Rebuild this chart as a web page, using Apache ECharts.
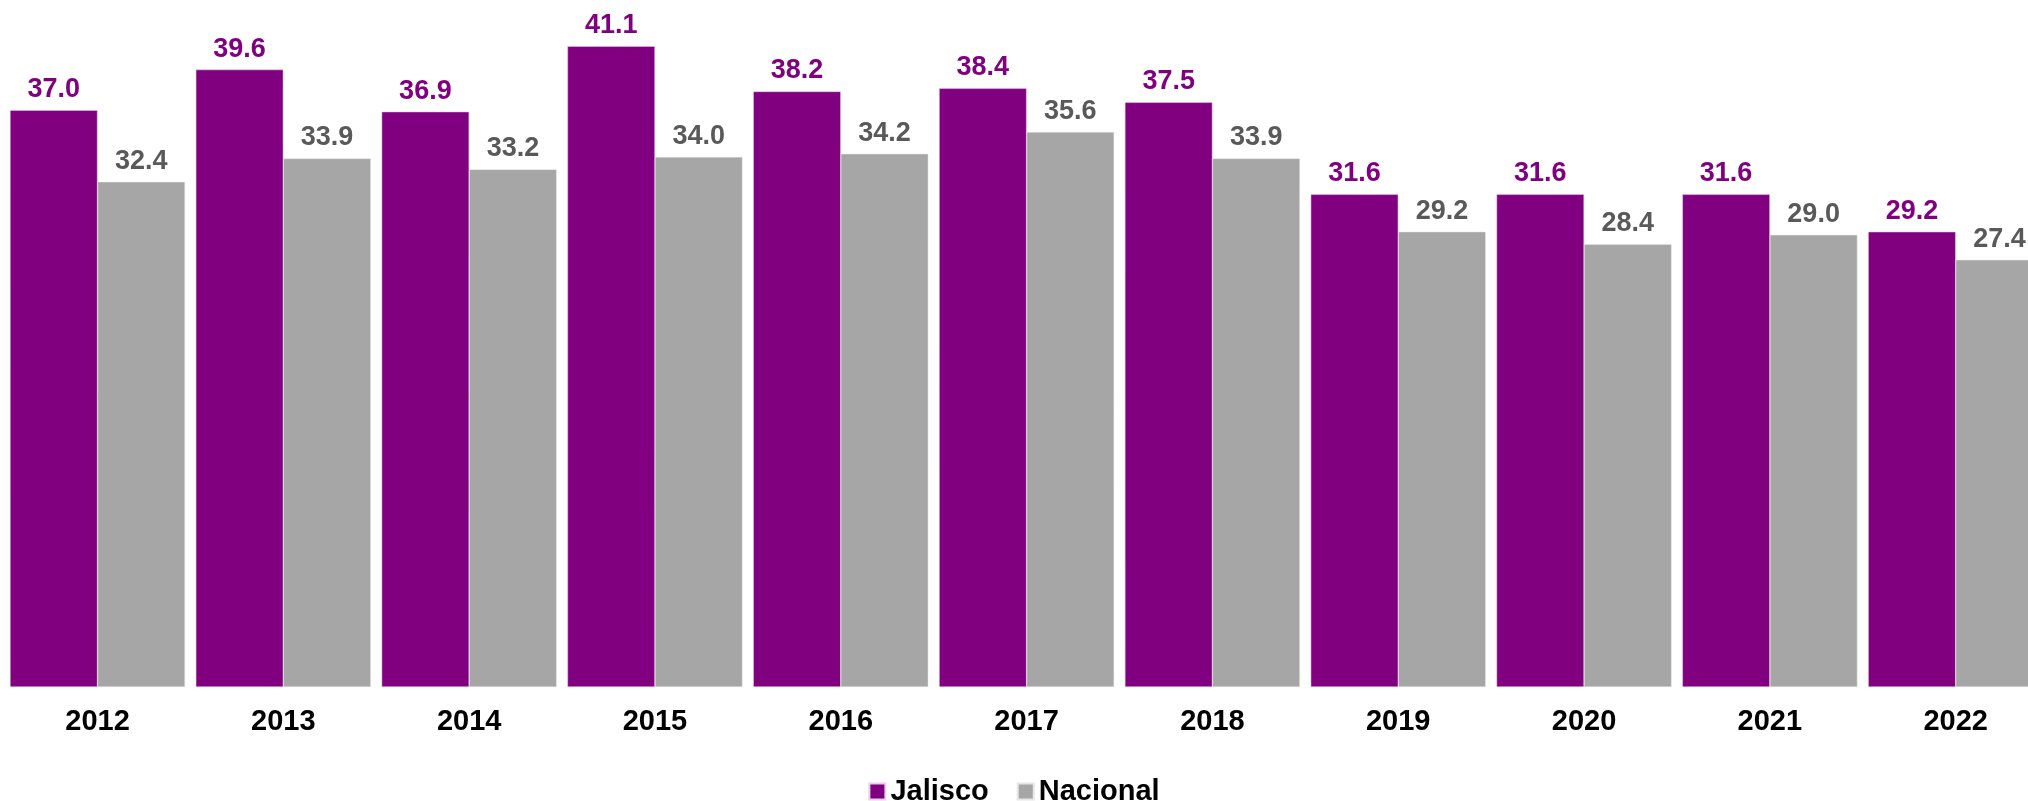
<!DOCTYPE html>
<html>
<head>
<meta charset="utf-8">
<script src="https://cdn.jsdelivr.net/npm/echarts@6/dist/echarts.min.js"></script>
<style>
  html, body { margin: 0; padding: 0; background: #fff; }
  #chart { width: 2028px; height: 801px; }
</style>
</head>
<body>
<div id="chart"></div>
<script>
// datos
const years = ["2012", "2013", "2014", "2015", "2016", "2017", "2018", "2019", "2020", "2021", "2022"];
const jalisco = [37.0, 39.6, 36.9, 41.1, 38.2, 38.4, 37.5, 31.6, 31.6, 31.6, 29.2];
const nacional = [32.4, 33.9, 33.2, 34.0, 34.2, 35.6, 33.9, 29.2, 28.4, 29.0, 27.4];

const font = "Liberation Sans, Arial, sans-serif";
const chart = echarts.init(document.getElementById("chart"));

chart.setOption({
  animation: false,
  grid: { left: 4.6, right: -20.6, top: 1, bottom: 114, outerBoundsMode: "none", containLabel: false },
  legend: {
    top: 772,
    left: "center",
    icon: "rect",
    itemWidth: 16,
    itemHeight: 16,
    itemGap: 28,
    textStyle: { fontFamily: font, fontSize: 29, fontWeight: "bold", color: "#000" },
    data: ["Jalisco", "Nacional"]
  },
  xAxis: {
    type: "category",
    data: years,
    axisLine: { show: false },
    axisTick: { show: false },
    axisLabel: { margin: 20, fontFamily: font, fontSize: 29, fontWeight: "bold", color: "#000" }
  },
  yAxis: {
    type: "value",
    min: 0,
    max: 44,
    show: false,
    splitLine: { show: false }
  },
  series: [
    {
      name: "Jalisco",
      type: "bar",
      data: jalisco,
      barGap: "0%",
      barCategoryGap: "5.8%",
      itemStyle: { color: "#800080", borderColor: "#e8d0e8", borderWidth: 0.5 },
      label: {
        show: true, position: "top", distance: 7,
        formatter: p => p.value.toFixed(1),
        fontFamily: font, fontSize: 27, fontWeight: "bold", color: "#800080"
      }
    },
    {
      name: "Nacional",
      type: "bar",
      data: nacional,
      barGap: "0%",
      barCategoryGap: "5.8%",
      itemStyle: { color: "#a6a6a6", borderColor: "#e6e6e6", borderWidth: 0.5 },
      label: {
        show: true, position: "top", distance: 7,
        formatter: p => p.value.toFixed(1),
        fontFamily: font, fontSize: 27, fontWeight: "bold", color: "#595959"
      }
    }
  ]
});
</script>
</body>
</html>
